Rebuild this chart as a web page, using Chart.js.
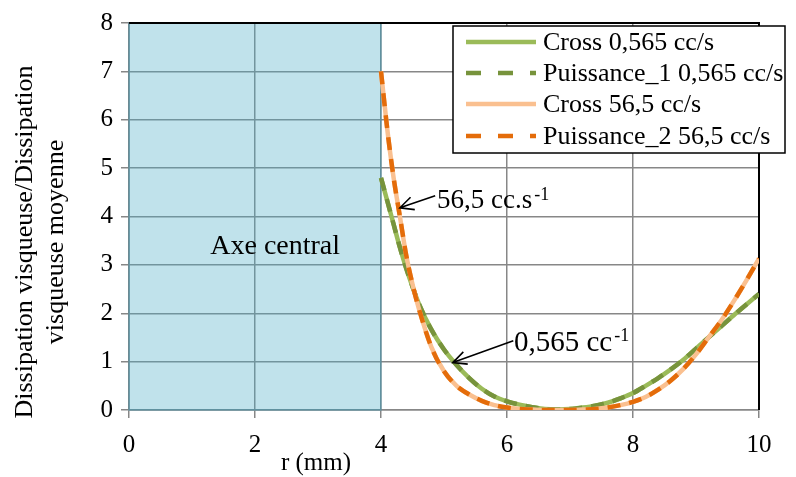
<!DOCTYPE html>
<html lang="fr">
<head>
<meta charset="UTF-8">
<title>Dissipation visqueuse</title>
<script src="https://cdn.jsdelivr.net/npm/chart.js"></script>
<style>
    body { margin: 0; background: #ffffff; }
    .container { position: relative; width: 796px; height: 477px; }
</style>
</head>
<body>
<div class="container">
    <canvas id="myChart"></canvas>
</div>

<script>
    // rayon (mm)
    const rayon = [4.0, 4.1, 4.2, 4.3, 4.4, 4.5, 4.6, 4.8, 5.0, 5.2, 5.4, 5.6, 5.8, 6.0, 6.2, 6.4, 6.6, 6.8,
        7.0, 7.2, 7.4, 7.6, 7.8, 8.0, 8.2, 8.4, 8.6, 8.8, 9.0, 9.2, 9.4, 9.6, 9.8, 10.0]

    const cross_0565 = [4.8, 4.32, 3.84, 3.36, 2.93, 2.55, 2.2, 1.66, 1.25, 0.93, 0.66, 0.44, 0.28, 0.18, 0.11, 0.06, 0.02, 0.01,
        0.02, 0.05, 0.09, 0.15, 0.24, 0.35, 0.5, 0.66, 0.84, 1.04, 1.27, 1.5, 1.73, 1.96, 2.18, 2.4]
    const puissance1_0565 = [4.8, 4.32, 3.84, 3.36, 2.93, 2.55, 2.2, 1.66, 1.25, 0.93, 0.66, 0.44, 0.28, 0.18, 0.11, 0.06, 0.02, 0.01,
        0.02, 0.05, 0.09, 0.15, 0.24, 0.35, 0.5, 0.66, 0.84, 1.04, 1.27, 1.5, 1.73, 1.96, 2.18, 2.4]
    const cross_565 = [7.0, 5.8, 4.8, 4.0, 3.2, 2.6, 2.1, 1.3, 0.8, 0.5, 0.32, 0.19, 0.1, 0.05, 0.02, 0.01, 0.0, 0.0,
        0.0, 0.01, 0.02, 0.05, 0.1, 0.17, 0.27, 0.42, 0.61, 0.85, 1.15, 1.5, 1.85, 2.25, 2.68, 3.13]
    const puissance2_565 = [7.0, 5.8, 4.8, 4.0, 3.2, 2.6, 2.1, 1.3, 0.8, 0.5, 0.32, 0.19, 0.1, 0.05, 0.02, 0.01, 0.0, 0.0,
        0.0, 0.01, 0.02, 0.05, 0.1, 0.17, 0.27, 0.42, 0.61, 0.85, 1.15, 1.5, 1.85, 2.25, 2.68, 3.13]

    const noms = ['Cross 0,565 cc/s', 'Puissance_1 0,565 cc/s', 'Cross 56,5 cc/s', 'Puissance_2 56,5 cc/s']

    const xTicks = [0, 2, 4, 6, 8, 10]
    const yTicks = [0, 1, 2, 3, 4, 5, 6, 7, 8]

    const serif = "'Liberation Serif', 'Times New Roman', serif"
    const gris = '#878787'

    function points(valeurs) {
        return rayon.map((r, i) => ({ x: r, y: valeurs[i] }))
    }

    // order : le plus petit est dessiné au-dessus
    const data = {
        datasets: [
            { label: noms[0], data: points(cross_0565), borderColor: '#9bbb59', borderWidth: 4.5, borderDash: [], order: 4 },
            { label: noms[1], data: points(puissance1_0565), borderColor: '#77933c', borderWidth: 4.5, borderDash: [13, 9], order: 3 },
            { label: noms[2], data: points(cross_565), borderColor: '#fac090', borderWidth: 4.5, borderDash: [], order: 2 },
            { label: noms[3], data: points(puissance2_565), borderColor: '#e46c0a', borderWidth: 4.5, borderDash: [13, 9], order: 1 }
        ]
    }

    function fleche(ctx, x1, y1, x2, y2) {
        // ligne de (x1,y1) vers la pointe (x2,y2)
        const ang = Math.atan2(y2 - y1, x2 - x1)
        const l = 15
        ctx.beginPath()
        ctx.moveTo(x1, y1)
        ctx.lineTo(x2, y2)
        ctx.moveTo(x2 - l * Math.cos(ang - 0.45), y2 - l * Math.sin(ang - 0.45))
        ctx.lineTo(x2, y2)
        ctx.lineTo(x2 - l * Math.cos(ang + 0.45), y2 - l * Math.sin(ang + 0.45))
        ctx.stroke()
    }

    function texteExposant(ctx, texte, exposant, x, y, taille, monte) {
        ctx.font = taille + 'px ' + serif
        ctx.textAlign = 'left'
        ctx.textBaseline = 'alphabetic'
        ctx.fillText(texte, x, y)
        const w = ctx.measureText(texte).width
        ctx.font = '18px ' + serif
        ctx.fillText(exposant, x + w + 2, y - monte)
    }

    const decor = {
        id: 'decor',
        beforeDatasetsDraw(chart) {
            const ctx = chart.ctx
            const xs = chart.scales.x
            const a = chart.chartArea
            ctx.save()
            // zone "axe central"
            ctx.fillStyle = 'rgba(75, 172, 198, 0.35)'
            const x0 = xs.getPixelForValue(0), x4 = xs.getPixelForValue(4)
            ctx.fillRect(x0, a.top, x4 - x0, a.bottom - a.top)
            ctx.strokeStyle = 'rgba(75, 140, 160, 0.6)'
            ctx.lineWidth = 1.5
            ctx.strokeRect(x0, a.top, x4 - x0, a.bottom - a.top)
            // bord haut et droit
            ctx.strokeStyle = '#000000'
            ctx.lineWidth = 2
            ctx.beginPath()
            ctx.moveTo(a.left, a.top)
            ctx.lineTo(a.right, a.top)
            ctx.lineTo(a.right, a.bottom)
            ctx.stroke()
            ctx.restore()
        },
        afterDraw(chart) {
            const ctx = chart.ctx
            const xs = chart.scales.x
            const ys = chart.scales.y
            const px = v => xs.getPixelForValue(v)
            const py = v => ys.getPixelForValue(v)
            ctx.save()
            ctx.fillStyle = '#000000'

            // texte axe central
            ctx.font = '28px ' + serif
            ctx.textAlign = 'center'
            ctx.textBaseline = 'alphabetic'
            ctx.fillText('Axe central', px(2.32), py(3.22))

            // annotations
            ctx.strokeStyle = '#000000'
            ctx.lineWidth = 1.6
            fleche(ctx, px(4.86), py(4.43), px(4.30), py(4.18))
            texteExposant(ctx, '56,5 cc.s', '-1', px(4.89), py(4.17), 27, 8)
            fleche(ctx, px(6.10), py(1.43), px(5.14), py(0.98))
            texteExposant(ctx, '0,565 cc', '-1', px(6.11), py(1.22), 29, 10)

            // titres des axes
            ctx.font = '25px ' + serif
            ctx.textAlign = 'center'
            ctx.textBaseline = 'middle'
            ctx.fillText('r (mm)', 316, 463)

            ctx.save()
            ctx.translate(0, 242)
            ctx.rotate(-Math.PI / 2)
            ctx.font = '26px ' + serif
            ctx.fillText('Dissipation visqueuse/Dissipation', 0, 25)
            ctx.fillText('visqueuse moyenne', 0, 56)
            ctx.restore()

            // légende
            const lx = 453, ly = 26, lw = 332, lh = 127
            ctx.fillStyle = '#ffffff'
            ctx.fillRect(lx, ly, lw, lh)
            ctx.strokeStyle = '#000000'
            ctx.lineWidth = 1.5
            ctx.strokeRect(lx, ly, lw, lh)
            const rangs = [42, 73, 104, 136]
            chart.data.datasets.forEach((ds, i) => {
                const y = rangs[i]
                ctx.strokeStyle = ds.borderColor
                ctx.lineWidth = 4.5
                ctx.setLineDash(ds.borderDash.length ? [15, 17] : [])
                ctx.beginPath()
                ctx.moveTo(466, y)
                ctx.lineTo(536, y)
                ctx.stroke()
                ctx.setLineDash([])
                ctx.fillStyle = '#000000'
                ctx.font = '26px ' + serif
                ctx.textAlign = 'left'
                ctx.textBaseline = 'middle'
                ctx.fillText(ds.label, 543, y + 1)
            })
            ctx.restore()
        }
    }

    const config = {
        type: 'line',
        data: data,
        options: {
            responsive: true,
            maintainAspectRatio: false,
            animation: false,
            layout: { padding: { top: 18, right: 37, bottom: 0, left: 0 } },
            elements: {
                point: { radius: 0 },
                line: { cubicInterpolationMode: 'monotone', fill: false, borderCapStyle: 'butt' }
            },
            plugins: {
                legend: { display: false },
                tooltip: { enabled: false }
            },
            scales: {
                x: {
                    type: 'linear',
                    min: 0,
                    max: 10,
                    afterBuildTicks: s => { s.ticks = xTicks.map(v => ({ value: v })) },
                    afterFit: s => { s.height = 67 },
                    ticks: { color: '#000000', padding: 12, font: { family: serif, size: 25 } },
                    grid: { color: gris, lineWidth: 1.5, tickLength: 8, tickColor: gris },
                    border: { color: gris, width: 1.5 }
                },
                y: {
                    min: 0,
                    max: 8,
                    afterBuildTicks: s => { s.ticks = yTicks.map(v => ({ value: v })) },
                    afterFit: s => { s.width = 129 },
                    ticks: { color: '#000000', padding: 8, font: { family: serif, size: 25 } },
                    grid: { color: gris, lineWidth: 1.5, tickLength: 8, tickColor: gris },
                    border: { color: gris, width: 1.5 }
                }
            }
        },
        plugins: [decor]
    }

    const myChart = new Chart(document.getElementById('myChart'), config)
</script>
</body>
</html>
